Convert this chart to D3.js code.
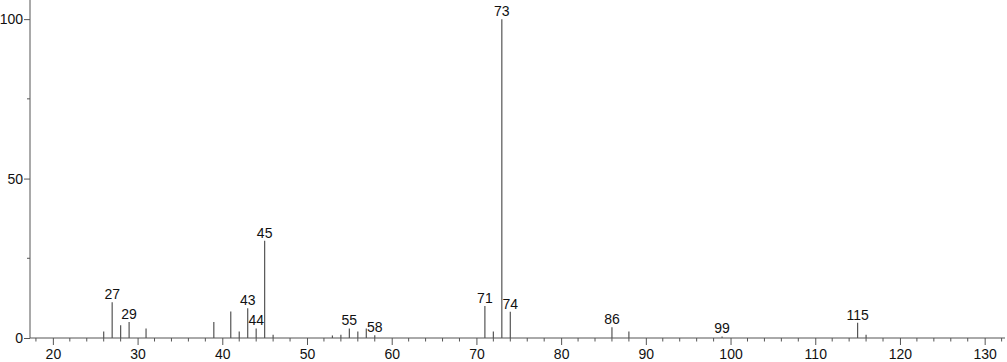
<!DOCTYPE html>
<html>
<head>
<meta charset="utf-8">
<script src="https://cdn.jsdelivr.net/npm/d3@7"></script>
<style>
  body { margin: 0; background: #fff; }
  text { font-family: "Liberation Sans", Arial, sans-serif; }
</style>
</head>
<body>
<div id="chart"></div>
<script>
// mass spectrum: m/z and relative intensity
var mz =        [26, 27,   28, 29, 31, 39, 41,  42, 43,  44, 45,   46, 53,  54, 55, 56, 57, 58,  71, 72, 73,  74,  86,  88, 99,  115, 116];
var intensity = [2,  11.2, 4,  5,  3,  5,  8.3, 2,  9.3, 3,  30.5, 1,  0.8, 1,  3,  2,  3,  0.9, 10, 2,  100, 8.2, 3.4, 2,  0.5, 4.8, 1];
var labeled =   [27, 29, 43, 44, 45, 55, 58, 71, 73, 74, 86, 99, 115];
var xMajor = [20, 30, 40, 50, 60, 70, 80, 90, 100, 110, 120, 130];
var yMajor = [0, 50, 100];
var yMinor = [25, 75];

var svgWidth = 1007;
var svgHeight = 362;

var svg = d3.select("#chart")
  .append("svg")
  .attr("width", svgWidth)
  .attr("height", svgHeight);

var x = d3.scaleLinear().domain([17.3, 132.4]).range([30, 1005]);
var y = d3.scaleLinear().domain([0, 106]).range([338, 0]);

var axisColor = "#555";

// x axis line
svg.append("line")
  .attr("x1", x.range()[0]).attr("x2", x.range()[1])
  .attr("y1", y(0)).attr("y2", y(0))
  .attr("stroke", axisColor);

// y axis line
svg.append("line")
  .attr("x1", x.range()[0]).attr("x2", x.range()[0])
  .attr("y1", 0).attr("y2", y(0))
  .attr("stroke", axisColor);

// x major ticks + labels
var xAxis = d3.axisBottom(x)
  .tickValues(xMajor)
  .tickSize(7)
  .tickPadding(4)
  .tickFormat(d3.format("d"));

var gx = svg.append("g")
  .attr("transform", `translate(0, ${y(0)})`)
  .call(xAxis);
gx.select(".domain").remove();
gx.selectAll("line").attr("stroke", axisColor);
gx.selectAll("text").attr("font-size", "14px").attr("fill", "#111")
  .attr("font-family", "Liberation Sans, Arial, sans-serif");

// x minor ticks
var xMinor = d3.range(18, 133, 2).filter(d => d % 10 !== 0);
svg.append("g").selectAll("line")
  .data(xMinor)
  .enter()
  .append("line")
  .attr("x1", d => x(d)).attr("x2", d => x(d))
  .attr("y1", y(0)).attr("y2", y(0) + 3.5)
  .attr("stroke", axisColor);

// y axis ticks + labels
var yAxis = d3.axisLeft(y)
  .tickValues(yMajor)
  .tickSize(6)
  .tickPadding(1)
  .tickFormat(d3.format("d"));

var gy = svg.append("g")
  .attr("transform", `translate(${x.range()[0]}, 0)`)
  .call(yAxis);
gy.select(".domain").remove();
gy.selectAll("line").attr("stroke", axisColor);
gy.selectAll("text").attr("font-size", "14px").attr("fill", "#111")
  .attr("font-family", "Liberation Sans, Arial, sans-serif");

svg.append("g").selectAll("line")
  .data(yMinor)
  .enter()
  .append("line")
  .attr("x1", x.range()[0] - 3).attr("x2", x.range()[0])
  .attr("y1", d => y(d)).attr("y2", d => y(d))
  .attr("stroke", axisColor);

// peaks
var peaks = mz.map((m, i) => ({mz: m, value: intensity[i]}));

svg.append("g").selectAll("line")
  .data(peaks)
  .enter()
  .append("line")
  .attr("x1", d => x(d.mz)).attr("x2", d => x(d.mz))
  .attr("y1", y(0)).attr("y2", d => y(d.value))
  .attr("stroke", "#555")
  .attr("stroke-width", 1.2);

// peak labels
svg.append("g").selectAll("text")
  .data(peaks.filter(d => labeled.indexOf(d.mz) >= 0))
  .enter()
  .append("text")
  .attr("x", d => x(d.mz))
  .attr("y", d => y(d.value) - 3)
  .attr("text-anchor", "middle")
  .attr("font-size", "14px")
  .attr("fill", "#111")
  .text(d => d.mz);
</script>
</body>
</html>
